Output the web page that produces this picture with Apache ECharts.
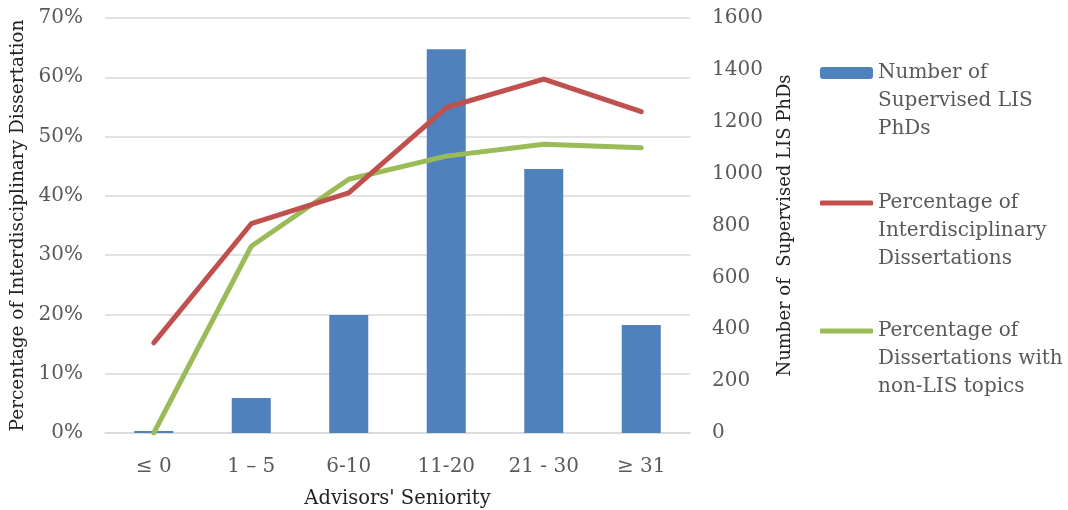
<!DOCTYPE html>
<html>
<head>
<meta charset="utf-8">
<script src="https://cdn.jsdelivr.net/npm/echarts@6/dist/echarts.min.js"></script>
<style>
  html, body { margin: 0; padding: 0; background: #fff; }
  #chart { width: 1068px; height: 510px; }
</style>
</head>
<body>
<div id="chart"></div>
<script>
// Advisors' seniority bands
const categories = ['≤ 0', '1 – 5', '6-10', '11-20', '21 - 30', '≥ 31'];
// Number of supervised LIS PhDs per band (right axis)
const phdCounts = [8, 135, 455, 1480, 1018, 416];
// Percentage of interdisciplinary dissertations (left axis, %)
const interdisciplinaryPct = [15.2, 35.3, 40.5, 54.9, 59.7, 54.2];
// Percentage of dissertations with non-LIS topics (left axis, %)
const nonLisPct = [0, 31.5, 42.8, 46.7, 48.7, 48.1];

const seriesNames = [
  'Number of\nSupervised LIS\nPhDs',
  'Percentage of\nInterdisciplinary\nDissertations',
  'Percentage of\nDissertations with\nnon-LIS topics'
];

const FONT = 'DejaVu Serif';
const tickColor = '#595959';
const gridColor = '#D9D9D9';

// Each legend entry is its own legend so the icon lines up with the first text line
function legendAt(name, top, iconHeight) {
  return {
    data: [{ name: name, icon: 'roundRect' }],
    orient: 'vertical',
    left: 820,
    top: top,
    padding: 0,
    itemWidth: 53,
    itemHeight: iconHeight,
    itemGap: 0,
    selectedMode: false,
    // two leading blank lines put the first text line at the icon's centre
    formatter: n => '\n\n' + n,
    textStyle: {
      fontFamily: FONT,
      fontSize: 20,
      color: tickColor,
      lineHeight: 28
    }
  };
}

const chart = echarts.init(document.getElementById('chart'), null, { renderer: 'canvas' });

chart.setOption({
  animation: false,
  backgroundColor: '#ffffff',
  grid: { left: 105, right: 378, top: 18, bottom: 77, outerBoundsMode: 'none', containLabel: false },
  legend: [
    legendAt(seriesNames[0], 3, 12),
    legendAt(seriesNames[1], 133, 5),
    legendAt(seriesNames[2], 261, 5)
  ],
  xAxis: {
    type: 'category',
    data: categories,
    name: "Advisors' Seniority",
    nameLocation: 'middle',
    nameGap: 56,
    nameTextStyle: { fontFamily: FONT, fontSize: 19.5, color: '#222' },
    axisLine: { show: true, lineStyle: { color: gridColor, width: 1.5 } },
    axisTick: { show: false },
    axisLabel: { fontFamily: FONT, fontSize: 20, color: tickColor, margin: 24 }
  },
  yAxis: [
    {
      type: 'value',
      min: 0, max: 70, interval: 10,
      name: 'Percentage of Interdisciplinary Dissertation',
      nameLocation: 'middle',
      nameRotate: 90,
      nameGap: 76,
      nameTextStyle: { fontFamily: FONT, fontSize: 18.5, color: '#222' },
      axisLine: { show: false },
      axisTick: { show: false },
      axisLabel: {
        fontFamily: FONT, fontSize: 20, color: tickColor, margin: 22,
        formatter: v => v + '%'
      },
      splitLine: { lineStyle: { color: gridColor, width: 1.5 } }
    },
    {
      type: 'value',
      min: 0, max: 1600, interval: 200,
      position: 'right',
      name: 'Number of  Supervised LIS PhDs',
      nameLocation: 'middle',
      nameRotate: 90,
      nameGap: 86,
      nameTextStyle: { fontFamily: FONT, fontSize: 18, color: '#222' },
      axisLine: { show: false },
      axisTick: { show: false },
      axisLabel: {
        fontFamily: FONT, fontSize: 20, color: tickColor, margin: 22,
        formatter: v => String(v)
      },
      splitLine: { show: false }
    }
  ],
  series: [
    {
      name: seriesNames[0],
      type: 'bar',
      yAxisIndex: 1,
      data: phdCounts,
      barWidth: '40%',
      itemStyle: { color: '#4F81BD' },
      z: 1
    },
    {
      name: seriesNames[1],
      type: 'line',
      yAxisIndex: 0,
      data: interdisciplinaryPct,
      symbol: 'none',
      lineStyle: { color: '#C0504D', width: 5, cap: 'round', join: 'round' },
      itemStyle: { color: '#C0504D' },
      z: 3
    },
    {
      name: seriesNames[2],
      type: 'line',
      yAxisIndex: 0,
      data: nonLisPct,
      symbol: 'none',
      lineStyle: { color: '#9BBB59', width: 5, cap: 'round', join: 'round' },
      itemStyle: { color: '#9BBB59' },
      z: 2
    }
  ]
});
</script>
</body>
</html>
